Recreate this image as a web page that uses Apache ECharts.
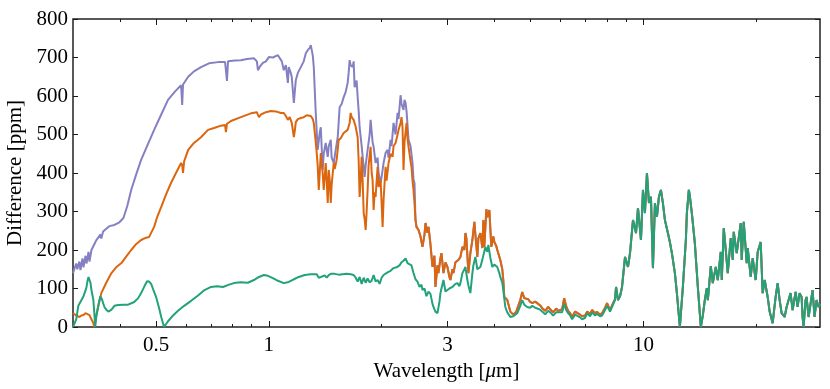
<!DOCTYPE html>
<html>
<head>
<meta charset="utf-8">
<script src="https://cdn.jsdelivr.net/npm/echarts@6/dist/echarts.min.js"></script>
<style>html,body{margin:0;padding:0;background:#fff}#c{width:830px;height:389px}</style>
</head>
<body>
<div id="c"></div>
<script>
// Wavelength [um], difference [ppm]
const purpleHead = [[0.3,140],[0.306,165],[0.308,150],[0.312,170],[0.314,148],[0.318,178],[0.320,155],[0.324,185],[0.326,165],[0.330,195],[0.332,170],[0.336,200],[0.342,215],[0.346,225],[0.350,222],[0.355,240],[0.357,230],[0.361,248],[0.368,255],[0.375,262],[0.387,265],[0.399,272],[0.409,283],[0.419,315],[0.429,356],[0.442,395],[0.456,434],[0.473,470],[0.494,512],[0.516,552],[0.538,590],[0.562,612],[0.583,628],[0.587,577],[0.590,630],[0.609,650],[0.631,664],[0.659,675],[0.692,685],[0.732,688],[0.764,688],[0.773,639],[0.778,690],[0.812,692],[0.842,693],[0.874,696],[0.912,698],[0.929,690],[0.935,667],[0.946,676],[0.964,686],[0.982,690],[1.000,701],[1.025,700],[1.057,706],[1.070,711],[1.083,690],[1.096,667],[1.110,680],[1.124,634],[1.130,675],[1.144,660],[1.151,650],[1.166,582],[1.180,641],[1.195,660],[1.217,675],[1.239,690],[1.255,711],[1.270,719],[1.286,725],[1.294,732],[1.310,705],[1.318,675],[1.334,556],[1.350,460],[1.367,505],[1.376,519],[1.392,408],[1.401,450],[1.418,478],[1.436,442],[1.445,470],[1.463,486],[1.471,440],[1.490,426],[1.508,460],[1.527,493],[1.545,571],[1.565,580],[1.584,597],[1.603,610],[1.623,634],[1.633,660],[1.643,693],[1.653,680],[1.674,675],[1.684,690],[1.694,623],[1.715,640],[1.726,597],[1.737,560],[1.747,519],[1.769,470],[1.780,442],[1.802,390],[1.813,420],[1.835,460],[1.858,500],[1.869,538],[1.892,480],[1.904,468],[1.927,426],[1.951,440],[1.963,400],[1.987,374],[2.000,390],[2.024,426],[2.049,452],[2.074,460],[2.087,440],[2.113,486],[2.126,470],[2.152,530],[2.179,500],[2.206,556],[2.219,540],[2.247,602],[2.260,580],[2.288,564],[2.302,590],[2.317,582],[2.331,560],[2.345,556],[2.360,486],[2.389,470],[2.418,426],[2.433,382],[2.448,374]];

const orangeHead = [[0.3,36],[0.306,30],[0.312,26],[0.316,30],[0.320,31],[0.324,36],[0.328,39],[0.332,31],[0.336,20],[0.340,10],[0.342,0],[0.346,30],[0.350,52],[0.357,88],[0.368,115],[0.380,140],[0.391,155],[0.404,166],[0.416,183],[0.429,200],[0.442,215],[0.456,226],[0.470,232],[0.479,234],[0.494,260],[0.503,285],[0.516,312],[0.532,345],[0.548,374],[0.565,400],[0.583,426],[0.587,420],[0.590,400],[0.594,430],[0.609,460],[0.631,478],[0.659,493],[0.688,512],[0.714,517],[0.745,523],[0.764,525],[0.768,506],[0.773,528],[0.792,535],[0.842,545],[0.896,555],[0.929,558],[0.935,551],[0.941,545],[0.952,552],[0.982,558],[1.012,561],[1.044,560],[1.076,556],[1.096,556],[1.110,548],[1.124,538],[1.137,545],[1.144,545],[1.151,530],[1.166,493],[1.173,510],[1.180,532],[1.195,540],[1.217,543],[1.239,545],[1.262,550],[1.294,548],[1.310,540],[1.318,530],[1.334,480],[1.342,452],[1.350,420],[1.359,356],[1.367,400],[1.376,452],[1.392,400],[1.401,356],[1.410,390],[1.418,426],[1.427,380],[1.436,322],[1.445,408],[1.454,380],[1.463,322],[1.471,370],[1.490,426],[1.499,410],[1.517,434],[1.536,486],[1.555,490],[1.584,504],[1.603,506],[1.623,512],[1.643,530],[1.653,556],[1.664,545],[1.684,538],[1.705,520],[1.726,493],[1.737,430],[1.747,338],[1.758,380],[1.769,442],[1.780,380],[1.791,296],[1.802,280],[1.813,252],[1.824,300],[1.835,356],[1.846,420],[1.869,468],[1.881,400],[1.892,382],[1.904,304],[1.916,350],[1.927,338],[1.951,416],[1.963,364],[1.987,382],[2.000,320],[2.012,260],[2.024,330],[2.049,416],[2.062,380],[2.087,426],[2.113,450],[2.139,442],[2.152,470],[2.179,478],[2.206,500],[2.219,512],[2.247,530],[2.260,545],[2.274,520],[2.288,408],[2.302,480],[2.331,530],[2.345,490],[2.360,468],[2.389,430],[2.403,416],[2.418,380],[2.433,356],[2.448,320]];

// purple and orange coincide from ~2.46 um onwards
const sharedMid = [[2.463,278],[2.478,260],[2.509,252],[2.540,235],[2.571,208],[2.603,240],[2.619,270],[2.651,245],[2.668,260],[2.700,215],[2.734,156],[2.767,185],[2.784,104],[2.819,160],[2.836,140],[2.871,178],[2.889,192],[2.925,140],[2.961,168],[2.997,156],[3.034,130],[3.053,122],[3.090,150],[3.110,140],[3.148,168],[3.206,174],[3.246,182],[3.286,208],[3.327,200],[3.347,244],[3.368,230],[3.409,140],[3.451,192],[3.494,226],[3.537,273],[3.559,240],[3.602,182],[3.625,230],[3.669,244],[3.715,205],[3.738,278],[3.760,208],[3.807,306],[3.830,285],[3.878,304],[3.925,208],[3.974,235],[3.998,221],[4.048,210],[4.072,200],[4.148,174],[4.199,150],[4.225,122],[4.251,78],[4.330,70],[4.411,40],[4.492,32],[4.576,40],[4.632,44],[4.690,70],[4.747,91],[4.806,75],[4.836,70],[4.925,72],[4.986,65],[5.048,62],[5.141,66],[5.205,62],[5.301,56],[5.367,49],[5.466,42],[5.568,52],[5.637,46],[5.741,38],[5.848,48],[5.920,42],[6.067,46],[6.142,75],[6.218,54],[6.294,42],[6.372,36],[6.451,26],[6.571,40],[6.652,38],[6.775,32],[6.859,28],[6.986,30],[7.072,40],[7.204,34],[7.293,44],[7.428,36],[7.520,39],[7.659,32],[7.754,36],[7.898,50],[7.995,62],[8.144,44],[8.295,62],[8.397,72]];

const greenHead = [[0.3,0],[0.306,20],[0.310,55],[0.316,70],[0.320,80],[0.324,95],[0.326,104],[0.328,120],[0.330,130],[0.332,135],[0.334,115],[0.336,96],[0.338,100],[0.340,70],[0.342,36],[0.344,0],[0.346,25],[0.350,52],[0.353,70],[0.355,80],[0.357,78],[0.359,70],[0.361,62],[0.364,52],[0.368,45],[0.373,40],[0.380,45],[0.387,55],[0.396,57],[0.409,58],[0.421,58],[0.437,65],[0.448,75],[0.456,88],[0.465,105],[0.473,119],[0.479,118],[0.485,112],[0.491,98],[0.500,78],[0.509,50],[0.516,26],[0.525,0],[0.538,15],[0.555,30],[0.572,42],[0.594,55],[0.620,68],[0.647,82],[0.671,95],[0.701,104],[0.727,106],[0.754,104],[0.783,110],[0.807,114],[0.842,116],[0.879,115],[0.912,122],[0.941,130],[0.970,135],[0.994,133],[1.025,127],[1.057,120],[1.096,114],[1.130,117],[1.166,124],[1.202,130],[1.247,135],[1.294,137],[1.342,137],[1.359,128],[1.376,130],[1.392,125],[1.410,134],[1.427,128],[1.445,135],[1.463,138],[1.499,138],[1.536,136],[1.574,137],[1.613,138],[1.653,137],[1.684,135],[1.705,128],[1.726,118],[1.747,130],[1.769,112],[1.791,128],[1.813,115],[1.835,126],[1.858,116],[1.881,120],[1.904,135],[1.927,118],[1.951,122],[1.975,112],[2.000,128],[2.024,135],[2.049,140],[2.074,142],[2.113,146],[2.152,153],[2.192,155],[2.233,160],[2.260,168],[2.288,172],[2.317,178],[2.345,166],[2.374,170],[2.403,160],[2.433,140],[2.463,124],[2.493,118],[2.524,104],[2.555,110],[2.571,96],[2.603,100],[2.635,80],[2.668,92],[2.700,86],[2.734,60],[2.751,52],[2.784,40],[2.819,36],[2.854,66],[2.871,88],[2.889,100],[2.925,122],[2.961,92],[2.997,88],[3.034,100],[3.090,104],[3.148,112],[3.187,114],[3.226,106],[3.246,114],[3.286,140],[3.327,150],[3.347,156],[3.388,122],[3.409,108],[3.451,88],[3.494,140],[3.515,160],[3.559,182],[3.602,150],[3.669,156],[3.715,175],[3.784,208],[3.830,195],[3.854,213],[3.901,180],[3.950,156],[3.998,162],[4.072,156],[4.123,140],[4.148,130],[4.199,115],[4.225,96],[4.277,52],[4.330,38],[4.411,26],[4.492,28],[4.604,36],[4.690,55],[4.747,70],[4.806,58],[4.895,52],[4.986,50],[5.048,55],[5.141,50],[5.205,48],[5.301,45],[5.367,40],[5.466,33],[5.568,42],[5.637,38],[5.741,30],[5.848,38],[5.920,35],[6.067,38],[6.142,60],[6.218,44],[6.294,36],[6.372,30],[6.451,20],[6.571,32],[6.652,30],[6.775,25],[6.859,20],[6.986,24],[7.072,35],[7.204,28],[7.293,38],[7.428,30],[7.520,34],[7.659,28],[7.754,30],[7.898,44],[7.995,55],[8.144,40],[8.295,58],[8.397,70]];

// all three coincide beyond ~8.4 um
const sharedTail = [[8.449,104],[8.553,70],[8.659,80],[8.766,104],[8.929,182],[9.094,156],[9.207,192],[9.377,278],[9.552,244],[9.669,309],[9.848,226],[9.970,356],[10.092,296],[10.217,400],[10.343,322],[10.471,338],[10.600,153],[10.731,322],[10.863,286],[10.997,338],[11.133,356],[11.270,322],[11.409,278],[11.621,244],[11.765,220],[11.910,192],[12.131,140],[12.281,88],[12.509,0],[12.741,104],[12.978,226],[13.058,296],[13.219,356],[13.300,340],[13.464,296],[13.714,218],[13.969,104],[14.228,0],[14.404,30],[14.581,70],[14.761,101],[14.852,70],[15.127,158],[15.314,114],[15.598,156],[15.791,122],[16.084,195],[16.183,122],[16.383,257],[16.585,200],[16.790,140],[17.102,231],[17.313,174],[17.419,247],[17.742,192],[17.961,231],[18.183,270],[18.295,174],[18.521,273],[18.864,166],[18.981,205],[19.333,130],[19.572,179],[19.935,122],[20.181,195],[20.556,221],[20.809,88],[21.066,122],[21.457,78],[21.722,40],[22.125,10],[22.536,78],[22.814,114],[23.096,70],[23.381,36],[23.815,26],[24.109,52],[24.406,70],[24.707,88],[25.012,44],[25.476,91],[25.790,52],[26.110,88],[26.432,78],[26.595,26],[26.758,0],[27.088,70],[27.255,78],[27.591,26],[27.931,60],[28.276,96],[28.624,26],[28.977,70],[29.335,52],[29.6,60]];

const xMajorTicks = [0.5, 1, 3, 10];
const xMinorTicks = [0.4, 0.6, 0.7, 0.8, 0.9, 2, 4, 5, 6, 7, 8, 9, 20];
const yTicks = [0, 100, 200, 300, 400, 500, 600, 700, 800];

const FONT = 'Liberation Serif';
const AXC = '#1a1a1a';
const XMIN = 0.3, XMAX = 29.6;

function xAx(pos, ticks, len, labels) {
  return {
    type: 'log', logBase: 10, min: XMIN, max: XMAX, position: pos, gridIndex: 0,
    axisLine: { show: false, onZero: false },
    splitLine: { show: false }, minorTick: { show: false }, minorSplitLine: { show: false },
    axisTick: { show: true, inside: true, length: len, customValues: ticks, lineStyle: { color: AXC, width: 1 } },
    axisLabel: labels ? { show: true, customValues: ticks, formatter: v => String(v), fontFamily: FONT, fontSize: 21, color: '#000', margin: 8 } : { show: false }
  };
}
function yAx(pos, labels) {
  return {
    type: 'value', min: yTicks[0], max: yTicks[yTicks.length - 1], interval: 100, position: pos, gridIndex: 0,
    axisLine: { show: false, onZero: false }, splitLine: { show: false },
    axisTick: { show: true, inside: true, length: 5, lineStyle: { color: AXC, width: 1 } },
    axisLabel: labels ? { show: true, fontFamily: FONT, fontSize: 21, color: '#000', margin: 5 } : { show: false }
  };
}

const xAxes = [xAx('bottom', xMajorTicks, 6, true), xAx('bottom', xMinorTicks, 3, false), xAx('top', xMajorTicks, 6, false), xAx('top', xMinorTicks, 3, false)];
xAxes[0].name = '{n|Wavelength [}{i|\u03bc}{n|m]}';
xAxes[0].nameLocation = 'middle';
xAxes[0].nameGap = 30;
xAxes[0].nameTextStyle = { rich: { n: { fontFamily: FONT, fontSize: 21, color: '#000' }, i: { fontFamily: FONT, fontSize: 21, fontStyle: 'italic', color: '#000' } } };

const yAxes = [yAx('left', true), yAx('right', false)];
yAxes[0].name = 'Difference [ppm]';
yAxes[0].nameLocation = 'middle';
yAxes[0].nameGap = 46;
yAxes[0].nameRotate = 90;
yAxes[0].nameTextStyle = { fontFamily: FONT, fontSize: 21, color: '#000' };

function line(name, data, color) {
  return { name, type: 'line', xAxisIndex: 0, yAxisIndex: 0, data, showSymbol: false, symbol: 'none',
    lineStyle: { color, width: 2 }, itemStyle: { color }, clip: true, animation: false };
}

const chart = echarts.init(document.getElementById('c'), null, { renderer: 'canvas' });
chart.setOption({
  animation: false,
  backgroundColor: '#fff',
  grid: { left: 73, right: 10, top: 19, bottom: 62, containLabel: false, outerBoundsMode: 'none',
          show: true, borderColor: '#222', borderWidth: 1.5, backgroundColor: 'transparent' },
  xAxis: xAxes,
  yAxis: yAxes,
  series: [
    line('purple', purpleHead.concat(sharedMid, sharedTail), '#8580c2'),
    line('orange', orangeHead.concat(sharedMid, sharedTail), '#dc660e'),
    line('green', greenHead.concat(sharedTail), '#22a27b')
  ]
});
</script>
</body>
</html>
